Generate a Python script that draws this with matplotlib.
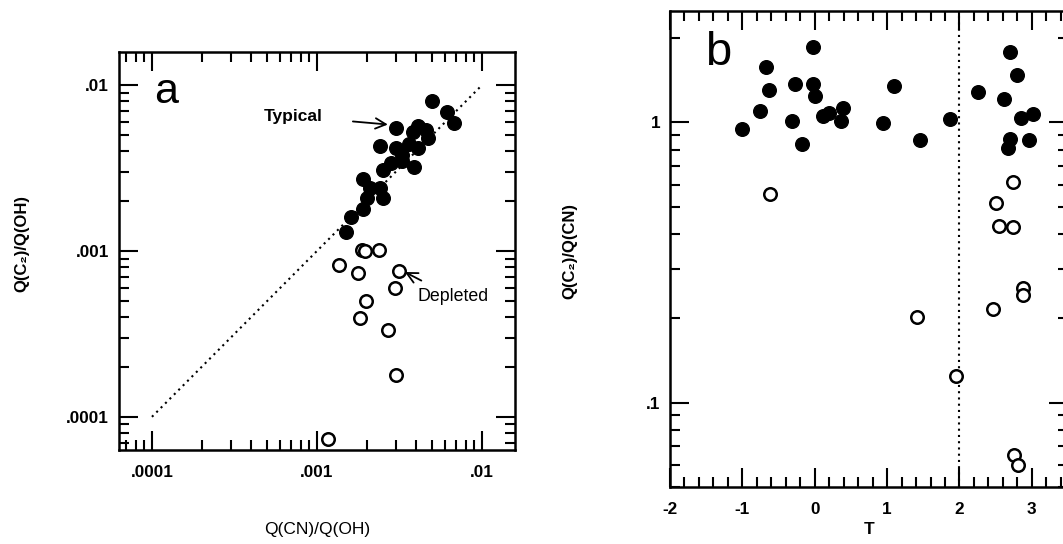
import matplotlib
matplotlib.use("Agg")
import matplotlib.pyplot as plt
from matplotlib.ticker import LogLocator, NullFormatter, FixedLocator, MultipleLocator

# ---------------- data ----------------
# Panel a: Q(CN)/Q(OH) vs Q(C2)/Q(OH)
typ_cn = [0.0050, 0.0061, 0.0068, 0.0030, 0.0041, 0.0046, 0.0038, 0.0047, 0.0041,
          0.0036, 0.0030, 0.0024, 0.0033, 0.0033, 0.0028, 0.0025, 0.0039, 0.0019,
          0.0021, 0.0024, 0.0025, 0.0020, 0.0019, 0.0016, 0.0015]
typ_c2 = [0.0080, 0.0069, 0.0059, 0.0055, 0.0057, 0.0054, 0.0052, 0.0048, 0.0042,
          0.0044, 0.0042, 0.0043, 0.0035, 0.0038, 0.0034, 0.0031, 0.0032, 0.0027,
          0.0024, 0.0024, 0.0021, 0.0021, 0.0018, 0.0016, 0.0013]
dep_cn = [0.00187, 0.00196, 0.00238, 0.00136, 0.00177, 0.00316, 0.00297, 0.00198,
          0.00182, 0.00270, 0.00300, 0.00116]
dep_c2 = [0.00102, 0.00100, 0.00101, 0.00082, 0.00074, 0.00076, 0.00060, 0.00050,
          0.000396, 0.000334, 0.000179, 0.000074]
line_a = [1e-4, 1e-2]

# Panel b: T vs Q(C2)/Q(CN)
b_typ_T = [-1.01, -0.76, -0.67, -0.63, -0.31, -0.27, -0.18, -0.02, -0.03, 0.00,
           0.12, 0.20, 0.39, 0.36, 0.94, 1.09, 1.46, 1.87, 2.25, 2.70, 2.79, 2.62,
           2.85, 3.01, 2.70, 2.67, 2.96]
b_typ_r = [0.945, 1.095, 1.578, 1.307, 1.014, 1.368, 0.836, 1.856, 1.376, 1.242,
           1.056, 1.080, 1.124, 1.014, 0.997, 1.345, 0.865, 1.026, 1.289, 1.788,
           1.477, 1.210, 1.035, 1.071, 0.872, 0.808, 0.865]
b_dep_T = [-0.62, 1.42, 1.95, 2.46, 2.51, 2.55, 2.74, 2.74, 2.88, 2.88, 2.76, 2.81]
b_dep_r = [0.556, 0.202, 0.1245, 0.216, 0.518, 0.428, 0.611, 0.422, 0.256, 0.242,
           0.0652, 0.0598]
T_split = 2.0

xt_a = [1e-4, 1e-3, 1e-2]
xt_a_lbl = [".0001", ".001", ".01"]
xt_b = [-2, -1, 0, 1, 2, 3]
xt_b_lbl = ["-2", "-1", "0", "1", "2", "3"]
yt_b = [0.1, 1]
yt_b_lbl = [".1", "1"]

# ---------------- style ----------------
plt.rcParams["font.family"] = ["Liberation Sans", "DejaVu Sans"]
FAM = ["Liberation Sans", "DejaVu Sans"]

fig = plt.figure(figsize=(10.63, 5.44), dpi=100)
fig.patch.set_facecolor("white")

axa = fig.add_axes([0.1119, 0.1728, 0.3725, 0.7316])
axb = fig.add_axes([0.6303, 0.1048, 0.3744, 0.875])

MS = 9.8


def style_axis(ax):
    for s in ax.spines.values():
        s.set_linewidth(1.8)
    ax.tick_params(which="both", direction="in", top=True, right=True,
                   width=1.5, color="black")
    ax.tick_params(which="major", length=13.5)
    ax.tick_params(which="minor", length=7)
    ax.tick_params(axis="x", which="major", pad=10.5)
    ax.tick_params(axis="y", which="major", pad=7)
    for lbl in ax.get_xticklabels() + ax.get_yticklabels():
        lbl.set_fontsize(12.3)
        lbl.set_fontweight("bold")


# ---------------- panel a ----------------
axa.set_xscale("log")
axa.set_yscale("log")
axa.plot(line_a, line_a, linestyle=(0, (1, 2.0)), color="black", lw=1.5, zorder=1)
axa.plot(typ_cn, typ_c2, "o", ms=MS, mfc="black", mec="black", zorder=3)
axa.plot(dep_cn, dep_c2, "o", ms=MS - 0.8, mfc="white", mec="black", mew=1.8, zorder=3)
lim = (10 ** -4.2, 10 ** -1.8)
axa.set_xlim(lim)
axa.set_ylim(lim)
for axis in (axa.xaxis, axa.yaxis):
    axis.set_major_locator(FixedLocator(xt_a))
    axis.set_minor_locator(LogLocator(base=10, subs=range(2, 10)))
    axis.set_minor_formatter(NullFormatter())
axa.set_xticklabels(xt_a_lbl)
axa.set_yticklabels(xt_a_lbl)
style_axis(axa)

axa.set_xlabel("Q(CN)/Q(OH)", fontsize=12.5, va="center")
axa.xaxis.set_label_coords(0.5, -0.201)
axa.set_ylabel("Q(C\u2082)/Q(OH)", fontsize=12, fontweight="bold", va="center",
               family=FAM)
axa.yaxis.set_label_coords(-0.245, 0.52)

axa.text(0.118, 0.90, "a", transform=axa.transAxes, fontsize=31,
         ha="center", va="center")
axa.annotate("Typical", xy=(0.00269, 0.00579), xytext=(0.000716, 0.0065),
             fontsize=12.5, fontweight="bold", ha="center", va="center",
             arrowprops=dict(arrowstyle="->,head_length=0.6,head_width=0.3",
                             lw=1.3, color="black", shrinkA=20, shrinkB=0))
axa.annotate("Depleted", xy=(0.00341, 0.000747), xytext=(0.00667, 0.000528),
             fontsize=12.8, ha="center", va="center",
             arrowprops=dict(arrowstyle="->,head_length=0.6,head_width=0.3",
                             lw=1.3, color="black", shrinkA=8, shrinkB=0))

# ---------------- panel b ----------------
axb.set_yscale("log")
axb.axvline(T_split, linestyle=(0, (1, 2.0)), color="black", lw=1.5, zorder=1)
axb.plot(b_typ_T, b_typ_r, "o", ms=MS, mfc="black", mec="black", zorder=3)
axb.plot(b_dep_T, b_dep_r, "o", ms=MS - 0.8, mfc="white", mec="black", mew=1.8, zorder=3)
axb.set_xlim(-2, 3.5)
axb.set_ylim(0.05, 2.5)
axb.xaxis.set_major_locator(FixedLocator(xt_b))
axb.xaxis.set_minor_locator(MultipleLocator(0.2))
axb.set_xticklabels(xt_b_lbl)
axb.yaxis.set_major_locator(FixedLocator(yt_b))
axb.yaxis.set_minor_locator(LogLocator(base=10, subs=range(2, 10)))
axb.yaxis.set_minor_formatter(NullFormatter())
axb.set_yticklabels(yt_b_lbl)
style_axis(axb)

axb.set_xlabel("T", fontsize=12.5, fontweight="bold", va="center")
axb.xaxis.set_label_coords(0.5, -0.090)
axb.set_ylabel("Q(C\u2082)/Q(CN)", fontsize=12, fontweight="bold", va="center",
               family=FAM)
axb.yaxis.set_label_coords(-0.251, 0.496)
axb.text(0.121, 0.911, "b", transform=axb.transAxes, fontsize=34,
         ha="center", va="center")

fig.savefig("out.png", dpi=100, facecolor="white")
